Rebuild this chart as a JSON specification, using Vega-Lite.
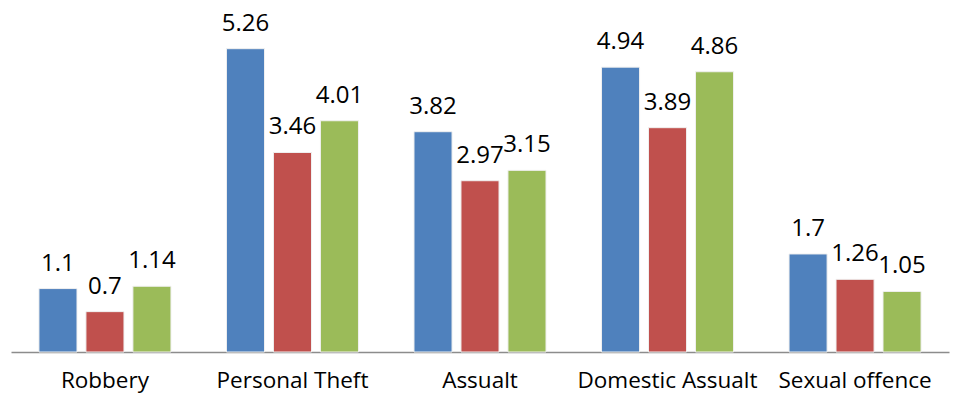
{
  "$schema": "https://vega.github.io/schema/vega-lite/v6.json",
  "width": 938,
  "height": 346,
  "autosize": {"type": "none"},
  "padding": {"left": 11, "top": 6, "right": 10, "bottom": 51},
  "background": "white",
  "config": {"view": {"stroke": null}, "font": "Open Sans"},
  "data": {
    "values": [
      {"category": "Robbery", "series": "Series 1", "value": 1.1, "label": "1.1"},
      {"category": "Robbery", "series": "Series 2", "value": 0.7, "label": "0.7"},
      {"category": "Robbery", "series": "Series 3", "value": 1.14, "label": "1.14"},
      {"category": "Personal Theft", "series": "Series 1", "value": 5.26, "label": "5.26"},
      {"category": "Personal Theft", "series": "Series 2", "value": 3.46, "label": "3.46"},
      {"category": "Personal Theft", "series": "Series 3", "value": 4.01, "label": "4.01"},
      {"category": "Assualt", "series": "Series 1", "value": 3.82, "label": "3.82"},
      {"category": "Assualt", "series": "Series 2", "value": 2.97, "label": "2.97"},
      {"category": "Assualt", "series": "Series 3", "value": 3.15, "label": "3.15"},
      {"category": "Domestic Assualt", "series": "Series 1", "value": 4.94, "label": "4.94"},
      {"category": "Domestic Assualt", "series": "Series 2", "value": 3.89, "label": "3.89"},
      {"category": "Domestic Assualt", "series": "Series 3", "value": 4.86, "label": "4.86"},
      {"category": "Sexual offence", "series": "Series 1", "value": 1.7, "label": "1.7"},
      {"category": "Sexual offence", "series": "Series 2", "value": 1.26, "label": "1.26"},
      {"category": "Sexual offence", "series": "Series 3", "value": 1.05, "label": "1.05"}
    ]
  },
  "encoding": {
    "x": {
      "field": "category",
      "type": "nominal",
      "sort": null,
      "scale": {"paddingInner": 0.296, "paddingOuter": 0.149},
      "axis": {
        "title": null,
        "labelAngle": 0,
        "labelFontSize": 22.5,
        "labelColor": "#000000",
        "labelPadding": 17,
        "labelLimit": 400,
        "labelOverlap": false,
        "ticks": false,
        "domainColor": "#8c8c8c",
        "domainWidth": 1.5,
        "labelFont": "Open Sans"
      }
    },
    "xOffset": {
      "field": "series",
      "type": "nominal",
      "scale": {"paddingInner": 0.19, "paddingOuter": 0}
    },
    "y": {
      "field": "value",
      "type": "quantitative",
      "scale": {"domain": [0, 6], "nice": false},
      "axis": null
    }
  },
  "layer": [
    {
      "mark": {"type": "bar", "stroke": "#f0f0f0", "strokeWidth": 1},
      "encoding": {
        "color": {
          "field": "series",
          "type": "nominal",
          "scale": {"domain": ["Series 1", "Series 2", "Series 3"], "range": ["#4F81BD", "#C0504D", "#9BBB59"]},
          "legend": null
        }
      }
    },
    {
      "mark": {"type": "text", "baseline": "alphabetic", "dy": -18, "fontSize": 24, "color": "#000000", "font": "Open Sans"},
      "encoding": {"text": {"field": "label", "type": "nominal"}}
    }
  ]
}
